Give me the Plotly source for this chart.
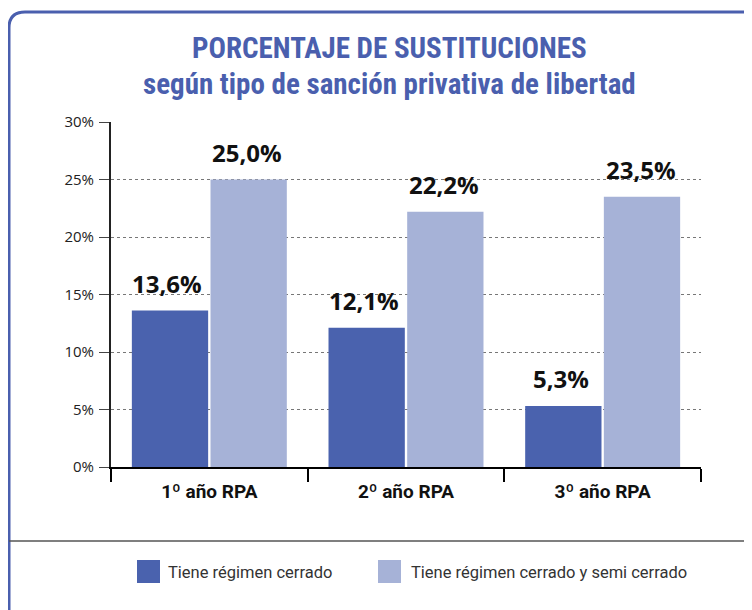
import plotly.graph_objs as go

# data
categories = ['1º año RPA', '2º año RPA', '3º año RPA']
series_names = ['Tiene régimen cerrado', 'Tiene régimen cerrado y semi cerrado']
cerrado = [13.6, 12.1, 5.3]
semi_cerrado = [25.0, 22.2, 23.5]
y_ticks = [0, 5, 10, 15, 20, 25, 30]

colors = ['#4a62ae', '#a6b2d7']
blue = '#4a5fae'
cond = 'Roboto Condensed, DejaVu Sans Condensed, Roboto, sans-serif'

W, H = 752, 610
OFF = 8  # page body margin
L, R, T, B = 103, 59, 114, 151
PW, PH = W - L - R, H - T - B


def px(x):
    # screen pixel -> paper x
    return (x - OFF - L) / PW


def py(y):
    # screen pixel -> paper y
    return (H - B - (y - OFF)) / PH


def fmt(v):
    return ('%.1f' % v).replace('.', ',') + '%'


graph = []
for name, vals, col in zip(series_names, [cerrado, semi_cerrado], colors):
    graph.append(go.Bar(x=categories, y=vals, name=name, marker=dict(color=col, line=dict(width=0)),
                        showlegend=False))

annotations = []
for vals, shift in [(cerrado, -42), (semi_cerrado, 38)]:
    for c, v in zip(categories, vals):
        annotations.append(dict(x=c, y=v, xref='x', yref='y', text=fmt(v), showarrow=False,
                                xshift=shift, yanchor='bottom', yshift=9,
                                font=dict(family='Open Sans', size=24, color='#111', weight='bold')))

# titles
annotations.append(dict(x=px(389), y=py(48), xref='paper', yref='paper', showarrow=False,
                        text='PORCENTAJE DE SUSTITUCIONES', xanchor='center', yanchor='middle',
                        font=dict(family=cond, size=29, color=blue, weight='bold')))
annotations.append(dict(x=px(389), y=py(84), xref='paper', yref='paper', showarrow=False,
                        text='según tipo de sanción privativa de libertad', xanchor='center', yanchor='middle',
                        font=dict(family=cond, size=29, color=blue, weight='bold')))

# custom legend
shapes = []
for name, col, sx, tx in zip(series_names, colors, [137, 378], [166, 409]):
    shapes.append(dict(type='rect', xref='paper', yref='paper', x0=px(sx), x1=px(sx + 23),
                       y0=py(560), y1=py(583), fillcolor=col, line=dict(width=0)))
    annotations.append(dict(x=px(tx), y=py(572), xref='paper', yref='paper', showarrow=False,
                            text=name, xanchor='left', yanchor='middle',
                            font=dict(family='Roboto', size=16.5, color='#333')))

# frame and separator
r = 16
shapes.append(dict(type='path', xref='paper', yref='paper', line=dict(color=blue, width=3),
                   path='M %f,%f L %f,%f Q %f,%f %f,%f L %f,%f' % (
                       px(9), py(640), px(9), py(12 + r), px(9), py(12), px(9 + r), py(12), px(780), py(12))))
shapes.append(dict(type='line', xref='paper', yref='paper', x0=px(9), x1=px(770), y0=py(541), y1=py(541),
                   line=dict(color='#555', width=1.5)))

layout = dict(
    width=W, height=H,
    margin=dict(l=L, r=R, t=T, b=B),
    paper_bgcolor='white', plot_bgcolor='white',
    barmode='group', bargap=0.2, bargroupgap=0.03,
    showlegend=False,
    xaxis=dict(showline=True, linewidth=2, linecolor='black', ticks='outside', tickson='boundaries',
               ticklen=13, tickwidth=1.5, tickcolor='black', showgrid=False,
               ticklabelstandoff=6,
               tickfont=dict(family='Roboto', size=19, color='#111', weight='bold')),
    yaxis=dict(range=[0, 30], tickvals=y_ticks, ticktext=[str(t) + '%' for t in y_ticks],
               showline=True, linewidth=2, linecolor='#222', ticks='outside', ticklen=10,
               tickcolor='#444', tickwidth=1, showgrid=True, griddash='dot', gridcolor='#777',
               gridwidth=1, zeroline=False, ticklabelstandoff=2,
               tickfont=dict(family='Open Sans', size=15, color='#222')),
    annotations=annotations,
    shapes=shapes,
)

fig = go.Figure(data=graph, layout=layout)
fig.write_html('out.html')
